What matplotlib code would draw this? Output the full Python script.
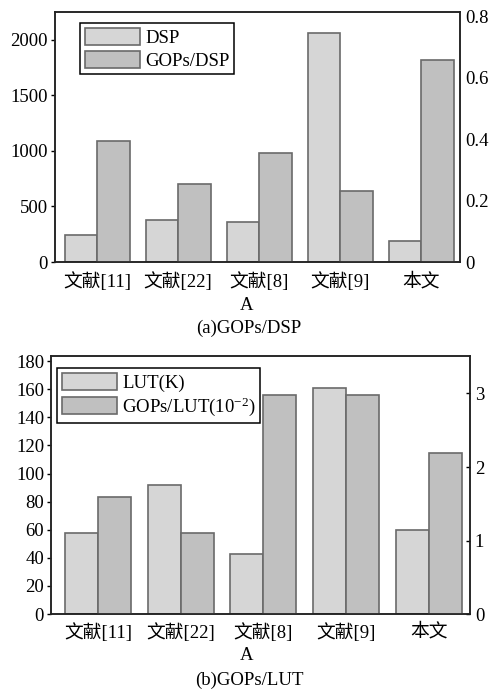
import matplotlib
matplotlib.use("Agg")
import matplotlib.pyplot as plt
import numpy as np

plt.rcParams['font.family'] = ['Liberation Serif', 'Noto Sans CJK SC']
plt.rcParams['mathtext.fontset'] = 'custom'
plt.rcParams['mathtext.rm'] = 'Liberation Serif'
plt.rcParams['mathtext.default'] = 'regular'
plt.rcParams['axes.unicode_minus'] = False

categories = ['文献[11]', '文献[22]', '文献[8]', '文献[9]', '本文']

# (a) GOPs/DSP
dsp = [240, 380, 360, 2060, 190]
gops_dsp = [0.394, 0.254, 0.354, 0.232, 0.658]

# (b) GOPs/LUT
lut = [58, 92, 42.5, 161, 60]
gops_lut = [1.59, 1.10, 2.98, 2.98, 2.19]

light = '#d6d6d6'
dark = '#c0c0c0'
edge = '#6a6a6a'
fs = 13.5
W = 0.4

fig = plt.figure(figsize=(4.98, 6.91), dpi=100)
x = np.arange(len(categories))


def panel(rect, left_vals, right_vals, ylim_l, ylim_r, yt_l, yt_r, yt_r_labels,
          xlim, labels, leg_anchor, right_tick_len, right_dir, caption, cap_y, a_y, xpad):
    ax = fig.add_axes(rect)
    ax2 = ax.twinx()
    b1 = ax.bar(x - W / 2, left_vals, W, color=light, edgecolor=edge, linewidth=1.2)
    b2 = ax2.bar(x + W / 2, right_vals, W, color=dark, edgecolor=edge, linewidth=1.2)
    ax.set_xlim(*xlim)
    ax.set_ylim(*ylim_l)
    ax2.set_ylim(*ylim_r)
    ax.set_xticks(x)
    ax.set_xticklabels(categories, fontsize=fs)
    ax.set_yticks(yt_l)
    ax.set_yticklabels([str(v) for v in yt_l], fontsize=fs)
    ax2.set_yticks(yt_r)
    ax2.set_yticklabels(yt_r_labels, fontsize=fs)
    ax.tick_params(axis='x', length=0, pad=xpad)
    ax.tick_params(axis='y', direction='out', length=3, width=1, pad=2)
    ax2.tick_params(axis='y', direction=right_dir, length=right_tick_len, width=1, pad=3.5)
    for a in (ax, ax2):
        for s in a.spines.values():
            s.set_linewidth(1.1)
            s.set_color('#222222')
    leg = ax2.legend([b1, b2], labels, loc='upper left', bbox_to_anchor=leg_anchor,
                     borderaxespad=0, fontsize=fs, fancybox=False, framealpha=1,
                     edgecolor='black', handlelength=2.95, handleheight=1.05,
                     handletextpad=0.28, labelspacing=0.2, borderpad=0.25)
    leg.get_frame().set_linewidth(1.1)
    fig.text(0.495, a_y, 'A', ha='center', va='center', fontsize=fs)
    fig.text(0.5, cap_y, caption, ha='center', va='center', fontsize=fs)
    return ax, ax2


panel([0.1104, 0.6208, 0.8133, 0.3618], dsp, gops_dsp, (0, 2250), (0, 0.813),
      [0, 500, 1000, 1500, 2000], [0, 0.2, 0.4, 0.6, 0.8], ['0', '0.2', '0.4', '0.6', '0.8'],
      (-0.52, 4.48), ['DSP', 'GOPs/DSP'], (0.062, 0.956), 0, 'in',
      '(a)GOPs/DSP', 1 - 328 / 691, 1 - 306 / 691, 7.5)

panel([0.1024, 0.1114, 0.8414, 0.3734], lut, gops_lut, (0, 183.7), (0, 3.51),
      list(range(0, 181, 20)), [0, 1, 2, 3], ['0', '1', '2', '3'],
      (-0.57, 4.5), ['LUT(K)', 'GOPs/LUT(10$^{-2}$)'], (0.0143, 0.9535), 3, 'in',
      '(b)GOPs/LUT', 1 - 680 / 691, 1 - 655 / 691, 6.5)

fig.savefig('out.png', dpi=100)
